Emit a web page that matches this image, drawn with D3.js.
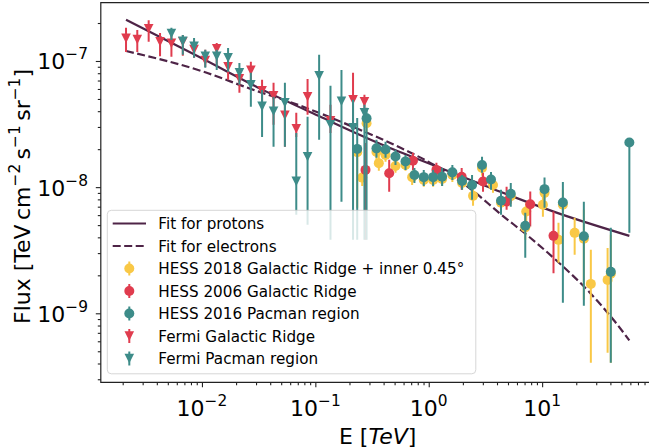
<!DOCTYPE html>
<html><head><meta charset="utf-8">
<script src="https://cdn.jsdelivr.net/npm/d3@7"></script>
<style>body{margin:0;background:#fff;} text{font-family:"DejaVu Sans",sans-serif;fill:#000;}</style>
</head><body><svg id="c" width="649" height="448"></svg>
<script>
// ---------- data (E in TeV, flux in TeV cm^-2 s^-1 sr^-1) ----------
const fitProtonE = [2.14e-3, 9.78e-3, 3.30e-2, 0.111, 0.376, 1.27, 4.28, 14.4, 58.8];
const fitProtonF = [2.12e-7, 1.06e-7, 6.01e-8, 3.61e-8, 2.20e-8, 1.42e-8, 9.18e-9, 6.14e-9, 4.11e-9];
const fitElectronE = [2.14e-3, 9.78e-3, 2.69e-2, 7.43e-2, 0.205, 0.564, 1.27, 2.33, 4.28, 7.86, 14.4, 26.5, 44.0, 58.8];
const fitElectronF = [1.20e-7, 8.35e-8, 6.01e-8, 4.41e-8, 3.06e-8, 2.05e-8, 1.40e-8, 9.70e-9, 6.14e-9, 3.97e-9, 2.47e-9, 1.45e-9, 8.56e-10, 6.10e-10];

const hess2018E  = [0.234, 0.259, 0.283, 0.346, 0.363, 0.416, 0.509, 0.624, 0.714, 0.904, 1.093, 1.312, 1.616, 1.968, 2.459, 2.951, 3.688, 4.338, 5.290, 7.244, 7.100, 10.16, 10.50, 13.94, 15.24, 19.36, 23.33, 26.89, 37.79, 40.33];
const hess2018F  = [1.89e-8, 1.19e-8, 3.21e-8, 1.90e-8, 1.55e-8, 1.80e-8, 1.47e-8, 1.50e-8, 1.20e-8, 1.14e-8, 1.14e-8, 1.16e-8, 1.25e-8, 1.08e-8, 8.53e-9, 1.42e-8, 1.04e-8, 7.51e-9, 8.46e-9, 6.41e-9, 4.80e-9, 7.24e-9, 9.01e-9, 3.82e-9, 7.24e-9, 4.34e-9, 3.90e-9, 1.71e-9, 1.84e-9, 2.06e-9];
const hess2018Hi = [2.12e-8, 1.37e-8, 3.74e-8, 2.12e-8, 1.77e-8, 2.05e-8, 1.68e-8, 1.74e-8, 1.35e-8, 1.27e-8, 1.27e-8, 1.30e-8, 1.40e-8, 1.21e-8, 9.87e-9, 1.59e-8, 1.19e-8, 8.53e-9, 9.52e-9, 7.51e-9, 6.03e-9, 9.52e-9, 1.02e-8, 5.21e-9, 9.52e-9, 5.71e-9, 6.61e-9, 3.19e-9, 3.30e-9, 4.19e-9];
const hess2018Lo = [6.85e-9, 1.02e-8, 2.74e-8, 1.65e-8, 1.35e-8, 1.59e-8, 1.30e-8, 1.35e-8, 1.04e-8, 1.006e-8, 1.006e-8, 1.02e-8, 1.10e-8, 9.52e-9, 7.11e-9, 1.23e-8, 9.01e-9, 6.49e-9, 7.37e-9, 5.31e-9, 3.82e-9, 5.82e-9, 7.93e-9, 2.51e-9, 5.51e-9, 2.91e-9, 1.28e-9, 4.05e-10, 4.86e-10, 4.05e-10];

const hess2006E  = [0.277, 0.448, 0.726, 1.169, 1.952, 3.011, 4.860, 7.858, 12.60];
const hess2006F  = [1.37e-8, 1.29e-8, 1.62e-8, 1.37e-8, 1.21e-8, 1.11e-8, 7.69e-9, 7.31e-9, 4.11e-9];
const hess2006Hi = [2.24e-8, 1.65e-8, 1.87e-8, 1.56e-8, 1.42e-8, 1.30e-8, 1.006e-8, 9.23e-9, 6.41e-9];
const hess2006Lo = [3.82e-9, 9.18e-9, 1.37e-8, 1.19e-8, 9.52e-9, 9.18e-9, 6.61e-9, 4.87e-9, 2.08e-9];

const hess2016E  = [0.234, 0.283, 0.346, 0.416, 0.509, 0.624, 0.748, 0.904, 1.093, 1.312, 1.616, 1.968, 2.410, 2.951, 3.541, 4.338, 5.290, 7.100, 10.50, 15.24, 23.33, 40.33, 58.78];
const hess2016F  = [2.01e-8, 3.51e-8, 2.03e-8, 1.99e-8, 1.75e-8, 1.60e-8, 1.25e-8, 1.20e-8, 1.20e-8, 1.21e-8, 1.31e-8, 1.12e-8, 1.04e-8, 1.50e-8, 1.15e-8, 7.79e-9, 8.85e-9, 4.94e-9, 9.64e-9, 7.55e-9, 4.08e-9, 2.13e-9, 2.26e-8];
const hess2016Hi = [3.54e-8, 4.25e-8, 2.37e-8, 2.29e-8, 1.98e-8, 1.80e-8, 1.42e-8, 1.37e-8, 1.37e-8, 1.42e-8, 1.50e-8, 1.25e-8, 1.25e-8, 1.74e-8, 1.32e-8, 9.52e-9, 1.08e-8, 6.26e-9, 1.19e-8, 1.10e-8, 7.65e-9, 4.76e-9, 2.26e-8];
const hess2016Lo = [3.82e-9, 3.82e-9, 1.71e-8, 1.71e-8, 1.50e-8, 1.37e-8, 1.08e-8, 1.02e-8, 1.02e-8, 1.02e-8, 1.14e-8, 9.52e-9, 7.93e-9, 1.30e-8, 9.52e-9, 6.03e-9, 6.98e-9, 2.75e-9, 6.85e-9, 1.21e-9, 1.15e-9, 4.05e-10, 4.34e-9];

const fermiRidgeE  = [2.14e-3, 2.69e-3, 3.39e-3, 4.27e-3, 5.38e-3, 6.78e-3, 8.52e-3, 1.07e-2, 1.35e-2, 1.70e-2, 2.14e-2, 2.70e-2, 3.39e-2, 4.28e-2, 5.39e-2, 6.79e-2, 8.54e-2, 0.136, 0.215, 0.271];
const fermiRidgeF  = [1.51e-7, 1.48e-7, 1.80e-7, 1.42e-7, 1.38e-7, 1.42e-7, 1.23e-7, 1.01e-7, 1.25e-7, 8.98e-8, 7.21e-8, 8.42e-8, 5.80e-8, 5.29e-8, 3.71e-8, 2.90e-8, 5.20e-8, 3.35e-8, 4.92e-8, 4.74e-8];
const fermiRidgeHi = [1.83e-7, 1.76e-7, 2.10e-7, 1.67e-7, 1.64e-7, 1.61e-7, 1.47e-7, 1.23e-7, 1.39e-7, 1.08e-7, 8.20e-8, 9.84e-8, 7.09e-8, 6.71e-8, 4.92e-8, 3.88e-8, 7.21e-8, 4.49e-8, 8.05e-8, 5.39e-8];
const fermiRidgeLo = [1.18e-7, 1.18e-7, 1.42e-7, 1.09e-7, 1.08e-7, 1.10e-7, 1.06e-7, 8.98e-8, 9.31e-8, 7.09e-8, 5.59e-8, 6.47e-8, 4.10e-8, 3.12e-8, 2.09e-8, 2.50e-8, 3.74e-8, 2.69e-8, 3.23e-8, 3.95e-8];

const fermiPacE  = [5.38e-3, 6.78e-3, 8.52e-3, 1.07e-2, 1.35e-2, 1.70e-2, 2.14e-2, 2.70e-2, 3.39e-2, 4.28e-2, 5.39e-2, 6.79e-2, 8.54e-2, 0.108, 0.136, 0.170, 0.215, 0.271];
const fermiPacF  = [1.65e-7, 1.43e-7, 1.31e-7, 1.09e-7, 1.09e-7, 1.06e-7, 8.05e-8, 6.47e-8, 4.37e-8, 3.99e-8, 4.66e-8, 1.11e-8, 1.74e-8, 7.62e-8, 3.12e-8, 4.79e-8, 2.95e-8, 3.88e-8];
const fermiPacHi = [1.83e-7, 1.61e-7, 1.52e-7, 1.23e-7, 1.23e-7, 1.27e-7, 9.66e-8, 8.05e-8, 5.90e-8, 5.20e-8, 6.71e-8, 2.69e-8, 3.61e-8, 1.12e-7, 6.35e-8, 8.50e-8, 4.92e-8, 4.49e-8];
const fermiPacLo = [1.47e-7, 1.12e-7, 1.06e-7, 8.82e-8, 8.50e-8, 8.20e-8, 6.47e-8, 4.33e-8, 2.50e-8, 2.09e-8, 2.09e-8, 6.03e-9, 5.03e-9, 2.37e-8, 3.82e-9, 7.65e-9, 3.82e-9, 3.82e-9];

const xTicks = [1e-2, 1e-1, 1e0, 1e1];
const xTickExp = ["−2", "−1", "0", "1"];
const yTicks = [1e-9, 1e-8, 1e-7];
const yTickExp = ["−9", "−8", "−7"];
const legendLabels = ["Fit for protons", "Fit for electrons", "HESS 2018 Galactic Ridge + inner 0.45°", "HESS 2006 Galactic Ridge", "HESS 2016 Pacman region", "Fermi Galactic Ridge", "Fermi Pacman region"];

// ---------- drawing ----------
const C = {yellow:"#F9C846", red:"#E03C4E", teal:"#3D8C89", fit:"#4E2447", axis:"#222"};
const L = 100.8, R = 654.5, T = 2.7, B = 382.3;
const svg = d3.select("#c");
const x = d3.scaleLog().domain([10**-2.892, 10**1.991]).range([L, R]);
const y = d3.scaleLog().domain([10**-9.547, 10**-6.538]).range([B, T]);

svg.append("defs").append("clipPath").attr("id","clip").append("rect")
  .attr("x",L).attr("y",T).attr("width",R-L).attr("height",B-T);
const g = svg.append("g").attr("clip-path","url(#clip)");

const line = d3.line().x(d=>x(d[0])).y(d=>y(d[1])).curve(d3.curveMonotoneX);
g.append("path").datum(d3.zip(fitProtonE, fitProtonF)).attr("d", line)
  .attr("fill","none").attr("stroke",C.fit).attr("stroke-width",2.2);
g.append("path").datum(d3.zip(fitElectronE, fitElectronF)).attr("d", line)
  .attr("fill","none").attr("stroke",C.fit).attr("stroke-width",2.2).attr("stroke-dasharray","8,3.5");

function tri(cx, cy, h){ return `M${cx-h},${cy-h}L${cx+h},${cy-h}L${cx},${cy+h}Z`; }

function series(E, F, Lo, Hi, color, shape){
  const s = g.append("g");
  const idx = d3.range(E.length);
  s.selectAll("line").data(idx).join("line")
    .attr("x1",i=>x(E[i])).attr("x2",i=>x(E[i]))
    .attr("y1",i=>y(Hi[i])).attr("y2",i=>y(Lo[i]))
    .attr("stroke",color).attr("stroke-width",2);
  if(shape==="circle"){
    s.selectAll("circle").data(idx).join("circle")
      .attr("cx",i=>x(E[i])).attr("cy",i=>y(F[i])).attr("r",5).attr("fill",color);
  } else {
    s.selectAll("path").data(idx).join("path")
      .attr("d",i=>tri(x(E[i]), y(F[i]), 4.8)).attr("fill",color);
  }
}
series(hess2018E, hess2018F, hess2018Lo, hess2018Hi, C.yellow, "circle");
series(hess2006E, hess2006F, hess2006Lo, hess2006Hi, C.red, "circle");
series(hess2016E, hess2016F, hess2016Lo, hess2016Hi, C.teal, "circle");
series(fermiRidgeE, fermiRidgeF, fermiRidgeLo, fermiRidgeHi, C.red, "tri");
series(fermiPacE, fermiPacF, fermiPacLo, fermiPacHi, C.teal, "tri");

// ---------- axes ----------
function minorTicks(scale){
  const [a,b] = scale.domain(); const out=[];
  for(let e=Math.floor(Math.log10(a)); e<=Math.ceil(Math.log10(b)); e++)
    for(let m=2;m<=9;m++){ const v=m*10**e; if(v>=a && v<=b) out.push(v); }
  return out;
}
const xAxisG = svg.append("g").attr("transform",`translate(0,${B})`);
xAxisG.call(d3.axisBottom(x).tickValues(xTicks).tickSize(5).tickFormat(""));
xAxisG.append("g").call(d3.axisBottom(x).tickValues(minorTicks(x)).tickSize(3).tickFormat(""));
const yAxisG = svg.append("g").attr("transform",`translate(${L},0)`);
yAxisG.call(d3.axisLeft(y).tickValues(yTicks).tickSize(5).tickFormat(""));
yAxisG.append("g").call(d3.axisLeft(y).tickValues(minorTicks(y)).tickSize(3).tickFormat(""));
svg.selectAll(".domain").remove();
svg.selectAll(".tick line").attr("stroke",C.axis).attr("stroke-width",1.1);

// spines (right spine lies outside the picture)
svg.append("path").attr("d",`M${R},${T}L${L},${T}L${L},${B}L${R},${B}`)
  .attr("fill","none").attr("stroke",C.axis).attr("stroke-width",1.2);

xTicks.forEach((v,i)=>{
  const t = svg.append("text").attr("x",x(v)).attr("y",415.5).attr("text-anchor","middle").attr("font-size",22);
  t.append("tspan").text("10");
  t.append("tspan").attr("dy",-10).attr("font-size",15.4).text(xTickExp[i]);
});
yTicks.forEach((v,i)=>{
  const t = svg.append("text").attr("x",88).attr("y",y(v)+8.5).attr("text-anchor","end").attr("font-size",22);
  t.append("tspan").text("10");
  t.append("tspan").attr("dy",-10).attr("font-size",15.4).text(yTickExp[i]);
});

const xl = svg.append("text").attr("x",(L+R)/2).attr("y",444).attr("text-anchor","middle").attr("font-size",22);
xl.append("tspan").text("E [");
xl.append("tspan").attr("font-style","italic").text("TeV");
xl.append("tspan").text("]");

const yl = svg.append("text").attr("transform",`translate(30,${(T+B)/2+4}) rotate(-90)`)
  .attr("text-anchor","middle").attr("font-size",22);
yl.append("tspan").text("Flux [TeV\u2009cm");
yl.append("tspan").attr("dy",-10).attr("font-size",15.4).text("−2");
yl.append("tspan").attr("dy",10).text("\u2009s");
yl.append("tspan").attr("dy",-10).attr("font-size",15.4).text("−1");
yl.append("tspan").attr("dy",10).text("\u2009sr");
yl.append("tspan").attr("dy",-10).attr("font-size",15.4).text("−1");
yl.append("tspan").attr("dy",10).text("]");

// ---------- legend ----------
const lg = svg.append("g");
lg.append("rect").attr("x",107.3).attr("y",210.3).attr("width",368.5).attr("height",163.5).attr("rx",4)
  .attr("fill","#fff").attr("fill-opacity",0.8).attr("stroke","#cccccc").attr("stroke-opacity",0.8);
const legendColors = [C.fit, C.fit, C.yellow, C.red, C.teal, C.red, C.teal];
const legendKinds = ["solid","dash","circle","circle","circle","tri","tri"];
legendLabels.forEach((lab,i)=>{
  const cy = 223.5 + 22.5*i;
  const k = legendKinds[i], col = legendColors[i];
  if(k==="solid"||k==="dash"){
    const l = lg.append("line").attr("x1",112.7).attr("x2",146).attr("y1",cy).attr("y2",cy)
      .attr("stroke",col).attr("stroke-width",2.2);
    if(k==="dash") l.attr("stroke-dasharray","8,3.5");
  } else {
    lg.append("line").attr("x1",129.3).attr("x2",129.3).attr("y1",cy-7).attr("y2",cy+7)
      .attr("stroke",col).attr("stroke-width",2);
    if(k==="circle") lg.append("circle").attr("cx",129.3).attr("cy",cy).attr("r",5).attr("fill",col);
    else lg.append("path").attr("d",tri(129.3,cy,4.8)).attr("fill",col);
  }
  lg.append("text").attr("x",158.3).attr("y",cy+5.5).attr("font-size",15.2).text(lab);
});
</script>
</body></html>
